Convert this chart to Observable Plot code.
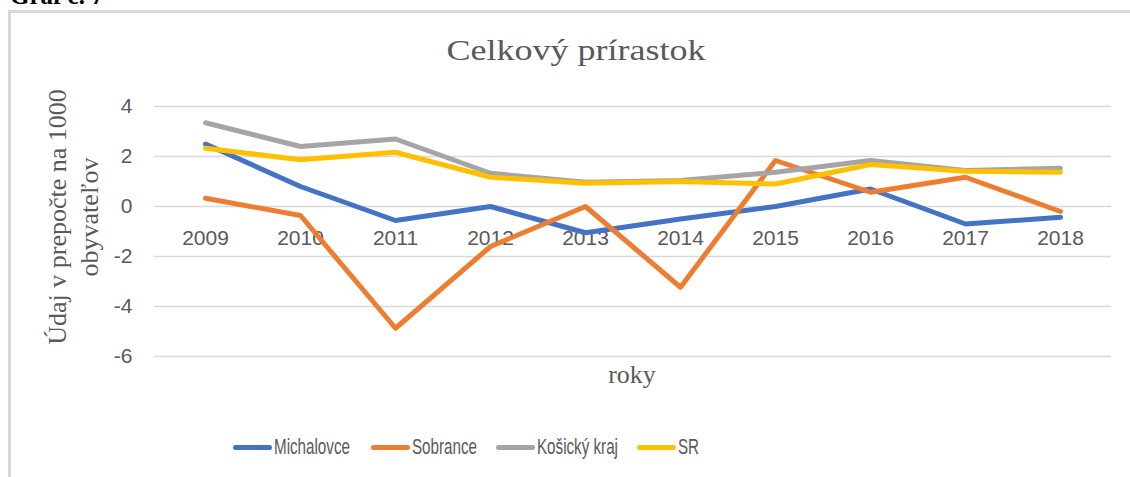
<!DOCTYPE html>
<html>
<head>
<meta charset="utf-8">
<script src="https://cdn.jsdelivr.net/npm/d3@7"></script>
<script src="https://cdn.jsdelivr.net/npm/@observablehq/plot@0.6"></script>
<style>
  body { margin: 0; background: #fff; }
  #wrap { position: relative; width: 1130px; height: 477px; overflow: hidden; background: #fff; }
  #frame { position: absolute; left: 8px; top: 10px; width: 1140px; height: 480px;
           border-left: 3px solid #d9d9d9; border-top: 3px solid #d9d9d9; }
  #graf { position: absolute; left: 10px; top: -17px; font: bold 25px "Liberation Serif", "Times New Roman", serif;
          color: #000; white-space: pre; line-height: 25px; }
  #title { position: absolute; left: 576px; top: 35px; font: 30px "Liberation Serif", "Times New Roman", serif;
           color: #595959; white-space: pre; line-height: 30px; transform: translateX(-50%) scaleX(1.2); }
  #ytitle { position: absolute; left: -76px; top: 185px; width: 300px; height: 64px; text-align: center;
            font: 26px "Liberation Serif", "Times New Roman", serif; color: #595959; line-height: 32px;
            transform: rotate(-90deg); transform-origin: 50% 50%; white-space: pre; }
  #xtitle { position: absolute; left: 632px; top: 360px; transform: translateX(-50%);
            font: 26px "Liberation Serif", "Times New Roman", serif; color: #595959; line-height: 30px; }
  #chart { position: absolute; left: 0; top: 90px; }
  #legend { position: absolute; left: 0; top: 434px; width: 1130px; height: 26px;
            font: 22px "Liberation Sans", Arial, sans-serif; color: #595959; }
  .item { position: absolute; top: 0; height: 26px; display: flex; align-items: center; }
  .sw { display: inline-block; width: 39px; height: 5px; border-radius: 3px; margin-right: 2px; }
  .lab { display: inline-block; transform: scaleX(0.69); transform-origin: 0 50%; white-space: pre; line-height: 26px; }
</style>
</head>
<body>
<div id="wrap">
  <div id="frame"></div>
  <div id="graf">Graf č. 7</div>
  <div id="title">Celkový prírastok</div>
  <div id="ytitle">Údaj v prepočte na 1000
obyvateľov</div>
  <div id="chart"></div>
  <div id="xtitle">roky</div>
  <div id="legend"></div>
</div>
<script>
const years = ["2009", "2010", "2011", "2012", "2013", "2014", "2015", "2016", "2017", "2018"];
const michalovce = [2.5, 0.8, -0.56, 0.0, -1.05, -0.5, 0.0, 0.7, -0.7, -0.43];
const sobrance = [0.33, -0.36, -4.87, -1.6, 0.0, -3.23, 1.84, 0.57, 1.17, -0.2];
const kosicky = [3.35, 2.4, 2.7, 1.33, 0.97, 1.04, 1.37, 1.84, 1.44, 1.53];
const sr = [2.33, 1.87, 2.17, 1.17, 0.93, 1.0, 0.9, 1.68, 1.41, 1.37];
const seriesNames = ["Michalovce", "Sobrance", "Košický kraj", "SR"];
const seriesColors = ["#4472C4", "#ED7D31", "#A5A5A5", "#FFC000"];
const yTicks = [-6, -4, -2, 0, 2, 4];

const seriesValues = [michalovce, sobrance, kosicky, sr];
const rows = seriesNames.flatMap((s, k) =>
  years.map((yr, i) => ({ year: yr, value: seriesValues[k][i], series: s })));

const chart = Plot.plot({
  width: 1130,
  height: 290,
  marginLeft: 154,
  marginRight: 19,
  marginTop: 16,
  marginBottom: 24,
  style: { fontFamily: "'Liberation Sans', Arial, sans-serif", background: "transparent", overflow: "visible" },
  x: { type: "point", domain: years, padding: 0.5, axis: null },
  y: { domain: [-6, 4] },
  color: { domain: seriesNames, range: seriesColors },
  marks: [
    Plot.gridY(yTicks, { stroke: "#d9d9d9", strokeOpacity: 1, strokeWidth: 1.5 }),
    Plot.axisY(yTicks, { tickSize: 0, tickPadding: 22, tickFormat: d => String(d), fontSize: 21, fill: "#595959", label: null }),
    Plot.text(years, { x: d => d, y: () => 0, dy: 32, fontSize: 21, fill: "#595959" }),
    Plot.line(rows, { x: "year", y: "value", z: "series", stroke: "series", strokeWidth: 5,
                      strokeLinecap: "round", strokeLinejoin: "round" })
  ]
});
document.getElementById("chart").appendChild(chart);

// legend entries placed as in the reference (swatch left edges)
const legendLefts = [233, 371, 496, 637];
const legend = document.getElementById("legend");
seriesNames.forEach((s, i) => {
  const item = document.createElement("div");
  item.className = "item";
  item.style.left = legendLefts[i] + "px";
  const sw = document.createElement("span");
  sw.className = "sw";
  sw.style.background = seriesColors[i];
  const lab = document.createElement("span");
  lab.className = "lab";
  lab.textContent = s;
  item.appendChild(sw);
  item.appendChild(lab);
  legend.appendChild(item);
});
</script>
</body>
</html>
